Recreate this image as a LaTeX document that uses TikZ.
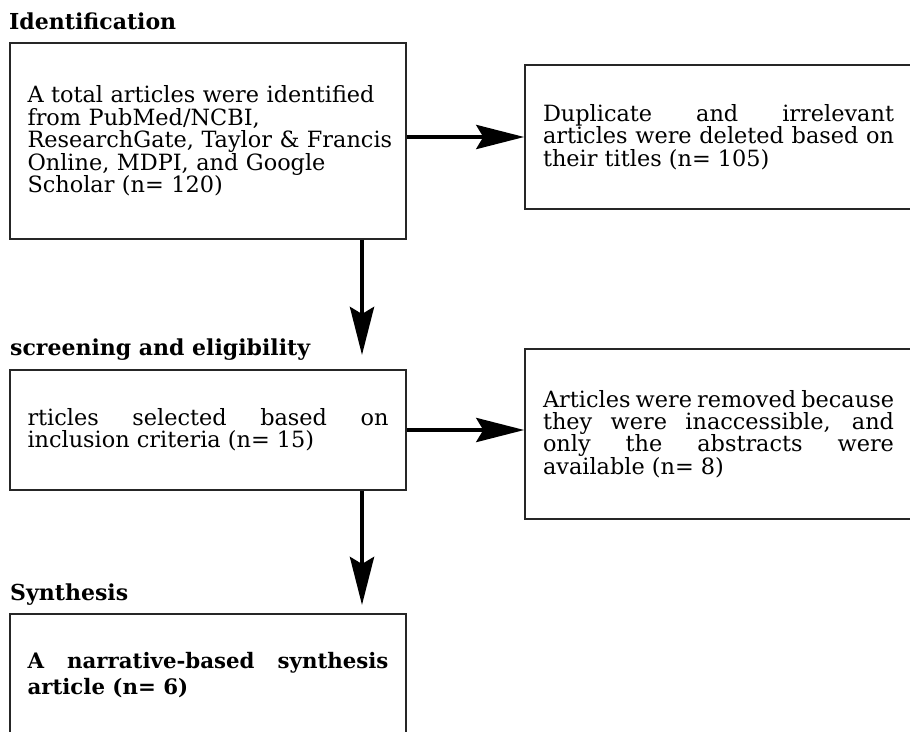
\documentclass[tikz,border=0pt]{standalone}
\usepackage{fontspec}
\setmainfont{DejaVu Serif}
\usetikzlibrary{arrows.meta}
\newcommand\bdyfont{\fontsize{22.4}{22.4}\selectfont}
\newcommand\bldfont{\fontsize{21.3}{25.5}\selectfont\bfseries}
\newcommand\hdfont{\fontsize{22}{22}\selectfont\bfseries}
\tikzset{
  boxL/.style={draw=black!85, line width=1.4pt, text width=361pt, inner xsep=17.5pt, inner ysep=0pt, font=\bdyfont},
  boxR/.style={draw=black!85, line width=1.4pt, text width=351pt, inner xsep=18pt, inner ysep=0pt, font=\bdyfont},
  head/.style={anchor=base west, inner sep=0pt, font=\hdfont},
  arr/.style={line width=4.5pt, -{Stealth[length=48pt,width=24pt,inset=7pt]}},
}
\begin{document}
\begin{tikzpicture}[x=1pt,y=-1pt]
\useasboundingbox (0,0) rectangle (910,731);
\clip (0,0) rectangle (910,731);
\node[head] (h1) at (9,29) {Identification};
\node[boxL, minimum height=196pt, align=left] (b1) at (208,141)
  {\mbox{A total articles were identified}\\\mbox{from PubMed/NCBI,}\\\mbox{ResearchGate, Taylor \& Francis}\\\mbox{Online, MDPI, and Google}\\\mbox{Scholar (n= 120)}};
\node[boxR, minimum height=144pt, align=justify] (b2) at (718.5,137)
  {Duplicate and irrelevant\linebreak articles were deleted based on\linebreak their titles (n= 105)};
\node[head] (h2) at (10,355) {screening and eligibility};
\node[boxL, minimum height=120pt, align=justify] (b3) at (208,430)
  {rticles selected based on\linebreak inclusion criteria (n= 15)};
\node[boxR, minimum height=170pt, align=justify] (b4) at (718.5,434)
  {Articles were removed because\linebreak they were inaccessible, and\linebreak only the abstracts were\linebreak available (n= 8)};
\node[head] (h3) at (10,600) {Synthesis};
\node[boxL, minimum height=122pt, align=justify, font=\bldfont] (b5) at (208,675)
  {A narrative-based synthesis\linebreak article (n= 6)};
\coordinate (t1) at (362,355);
\coordinate (t2) at (362,605);
\draw[arr] (b1.south -| t1) -- (t1);
\draw[arr] (b1.east |- b2.west) -- (b2.west);
\draw[arr] (b3.east) -- (b3.east -| b4.west);
\draw[arr] (b3.south -| t2) -- (t2);
\end{tikzpicture}
\end{document}
